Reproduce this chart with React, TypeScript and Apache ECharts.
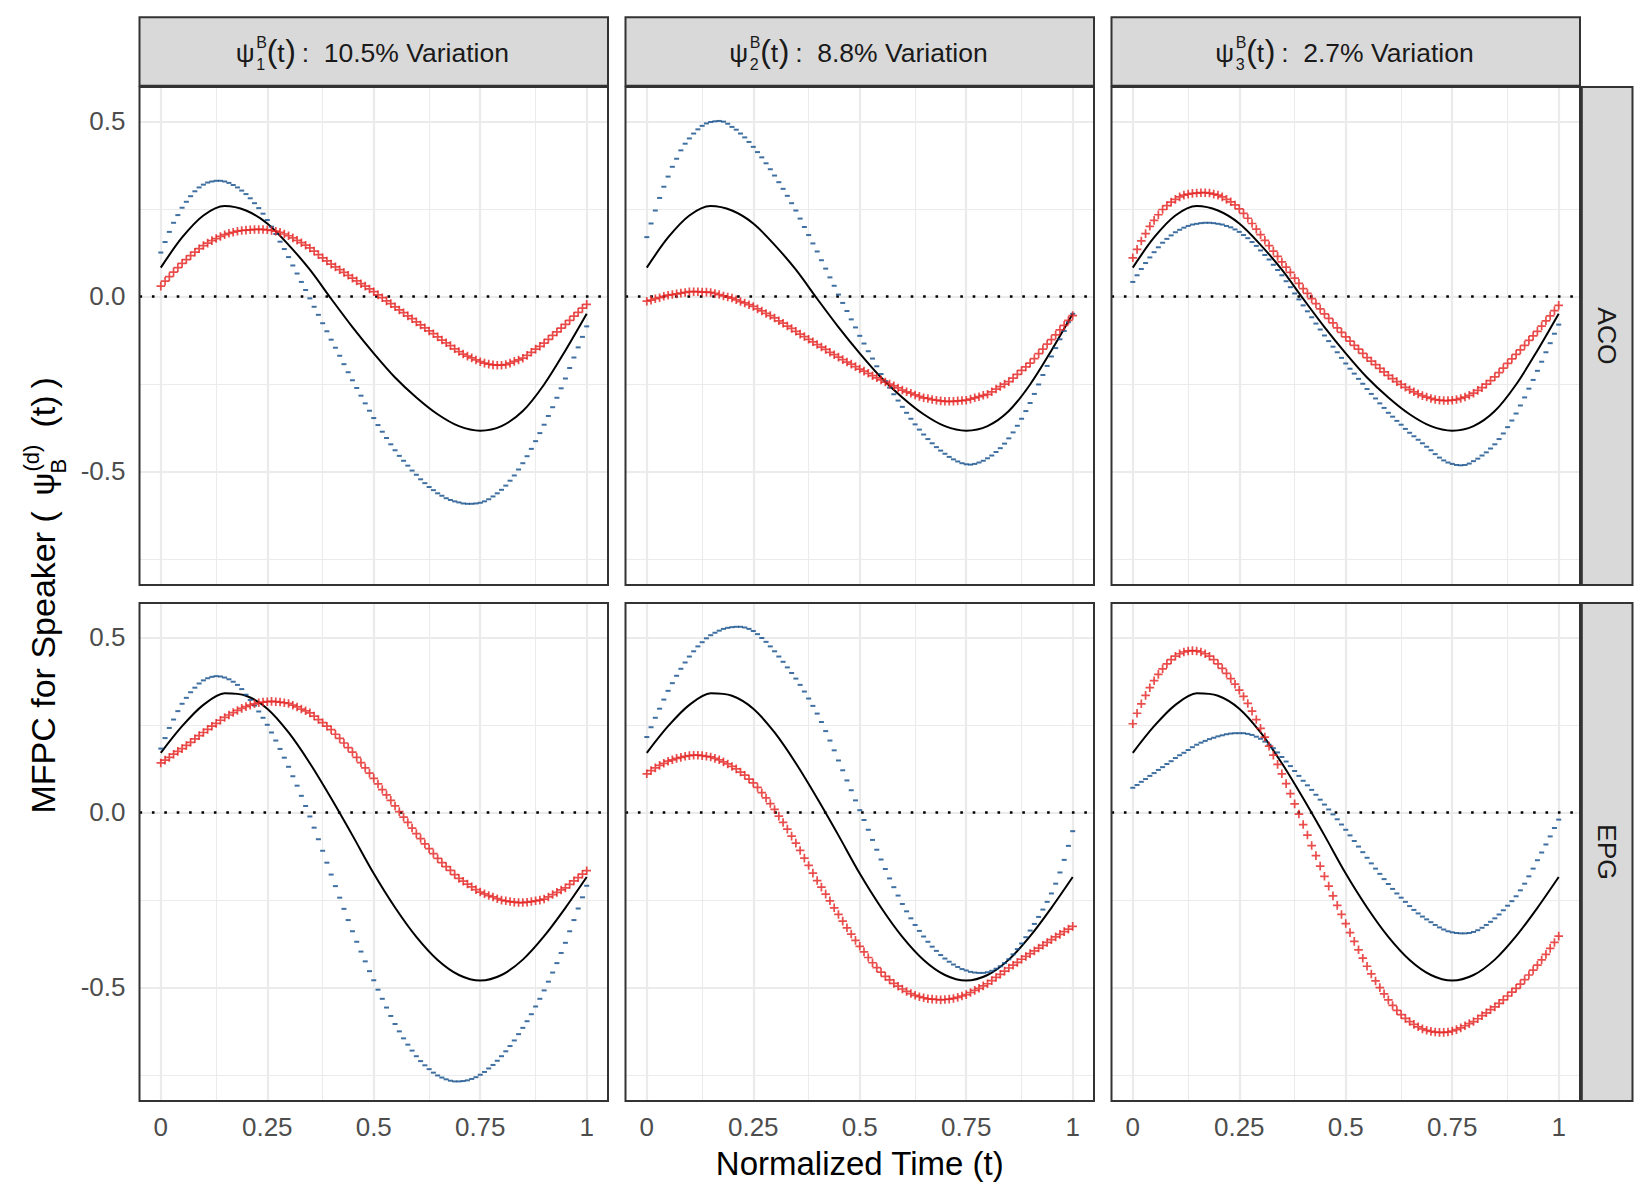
import React, { useEffect, useRef } from 'react';
import * as echarts from 'echarts';

// ---------------- DATA ----------------
const T_GRID = [
  0, 0.01, 0.02, 0.03, 0.04, 0.05, 0.06, 0.07, 0.08, 0.09,
  0.1, 0.11, 0.12, 0.13, 0.14, 0.15, 0.16, 0.17, 0.18, 0.19,
  0.2, 0.21, 0.22, 0.23, 0.24, 0.25, 0.26, 0.27, 0.28, 0.29,
  0.3, 0.31, 0.32, 0.33, 0.34, 0.35, 0.36, 0.37, 0.38, 0.39,
  0.4, 0.41, 0.42, 0.43, 0.44, 0.45, 0.46, 0.47, 0.48, 0.49,
  0.5, 0.51, 0.52, 0.53, 0.54, 0.55, 0.56, 0.57, 0.58, 0.59,
  0.6, 0.61, 0.62, 0.63, 0.64, 0.65, 0.66, 0.67, 0.68, 0.69,
  0.7, 0.71, 0.72, 0.73, 0.74, 0.75, 0.76, 0.77, 0.78, 0.79,
  0.8, 0.81, 0.82, 0.83, 0.84, 0.85, 0.86, 0.87, 0.88, 0.89,
  0.9, 0.91, 0.92, 0.93, 0.94, 0.95, 0.96, 0.97, 0.98, 0.99, 1,
];
const T_KNOTS = [0, 0.05, 0.1, 0.15, 0.2, 0.25, 0.3, 0.35, 0.4, 0.45, 0.5, 0.55, 0.6, 0.65, 0.7, 0.75, 0.8, 0.85, 0.9, 0.95, 1];

const MEAN_ACO = [0.082, 0.168, 0.231, 0.258, 0.245, 0.208, 0.147, 0.076, -0.007, -0.088, -0.163, -0.232, -0.289, -0.337, -0.371, -0.384, -0.371, -0.328, -0.252, -0.155, -0.050];
const MEAN_EPG = [0.170, 0.246, 0.307, 0.340, 0.333, 0.296, 0.228, 0.140, 0.040, -0.066, -0.175, -0.272, -0.356, -0.422, -0.465, -0.481, -0.465, -0.421, -0.354, -0.273, -0.185];

const RED_ACO_1 = [
  0.029, 0.043, 0.056, 0.069, 0.082, 0.094, 0.105, 0.116, 0.126, 0.136,
  0.145, 0.152, 0.159, 0.165, 0.171, 0.176, 0.180, 0.183, 0.186, 0.188,
  0.189, 0.190, 0.191, 0.191, 0.191, 0.190, 0.188, 0.186, 0.183, 0.178,
  0.173, 0.167, 0.160, 0.153, 0.146, 0.138, 0.129, 0.119, 0.110, 0.101,
  0.092, 0.084, 0.076, 0.068, 0.060, 0.052, 0.044, 0.036, 0.029, 0.021,
  0.013, 0.004, -0.004, -0.013, -0.021, -0.030, -0.039, -0.047, -0.056, -0.064,
  -0.073, -0.082, -0.090, -0.099, -0.107, -0.116, -0.125, -0.133, -0.141, -0.150,
  -0.158, -0.165, -0.171, -0.176, -0.182, -0.187, -0.191, -0.194, -0.196, -0.197,
  -0.197, -0.195, -0.191, -0.186, -0.182, -0.177, -0.169, -0.160, -0.151, -0.143,
  -0.134, -0.123, -0.112, -0.102, -0.091, -0.080, -0.069, -0.057, -0.046, -0.034,
  -0.023,
];
const BLUE_ACO_1 = [
  0.125, 0.155, 0.184, 0.210, 0.232, 0.253, 0.270, 0.286, 0.300, 0.311,
  0.319, 0.325, 0.328, 0.330, 0.330, 0.328, 0.324, 0.318, 0.311, 0.302,
  0.292, 0.280, 0.266, 0.252, 0.236, 0.218, 0.199, 0.178, 0.156, 0.135,
  0.112, 0.088, 0.065, 0.041, 0.018, -0.006, -0.030, -0.053, -0.077, -0.100,
  -0.124, -0.147, -0.170, -0.194, -0.217, -0.240, -0.262, -0.284, -0.306, -0.327,
  -0.348, -0.368, -0.387, -0.405, -0.423, -0.440, -0.456, -0.470, -0.484, -0.498,
  -0.510, -0.523, -0.534, -0.545, -0.554, -0.563, -0.570, -0.577, -0.582, -0.586,
  -0.589, -0.592, -0.593, -0.593, -0.592, -0.590, -0.586, -0.580, -0.572, -0.563,
  -0.553, -0.541, -0.527, -0.512, -0.495, -0.477, -0.457, -0.436, -0.414, -0.391,
  -0.367, -0.342, -0.317, -0.290, -0.263, -0.235, -0.205, -0.175, -0.146, -0.116,
  -0.086,
];
const RED_ACO_2 = [
  -0.014, -0.011, -0.007, -0.004, 0.000, 0.003, 0.005, 0.007, 0.009, 0.011,
  0.013, 0.013, 0.013, 0.012, 0.012, 0.011, 0.008, 0.005, 0.001, -0.002,
  -0.005, -0.010, -0.015, -0.019, -0.024, -0.029, -0.036, -0.042, -0.049, -0.055,
  -0.062, -0.070, -0.077, -0.085, -0.092, -0.100, -0.108, -0.115, -0.123, -0.130,
  -0.138, -0.145, -0.152, -0.160, -0.167, -0.174, -0.181, -0.188, -0.194, -0.201,
  -0.208, -0.214, -0.220, -0.227, -0.233, -0.239, -0.245, -0.251, -0.256, -0.262,
  -0.268, -0.273, -0.277, -0.282, -0.286, -0.290, -0.292, -0.295, -0.297, -0.299,
  -0.300, -0.300, -0.300, -0.299, -0.298, -0.297, -0.294, -0.290, -0.287, -0.283,
  -0.280, -0.273, -0.265, -0.258, -0.251, -0.244, -0.234, -0.223, -0.212, -0.202,
  -0.191, -0.178, -0.164, -0.151, -0.137, -0.124, -0.110, -0.096, -0.083, -0.069,
  -0.055,
];
const BLUE_ACO_2 = [
  0.169, 0.208, 0.245, 0.281, 0.313, 0.342, 0.370, 0.393, 0.417, 0.436,
  0.451, 0.465, 0.477, 0.487, 0.494, 0.498, 0.500, 0.501, 0.499, 0.493,
  0.484, 0.476, 0.465, 0.454, 0.441, 0.427, 0.412, 0.397, 0.380, 0.363,
  0.345, 0.326, 0.307, 0.287, 0.266, 0.245, 0.222, 0.198, 0.175, 0.151,
  0.128, 0.103, 0.079, 0.054, 0.030, 0.005, -0.019, -0.042, -0.066, -0.089,
  -0.113, -0.135, -0.157, -0.178, -0.200, -0.222, -0.242, -0.261, -0.280, -0.298,
  -0.316, -0.333, -0.350, -0.366, -0.381, -0.395, -0.408, -0.420, -0.431, -0.441,
  -0.450, -0.459, -0.466, -0.472, -0.477, -0.480, -0.481, -0.479, -0.475, -0.470,
  -0.463, -0.455, -0.445, -0.434, -0.421, -0.406, -0.389, -0.370, -0.350, -0.328,
  -0.305, -0.279, -0.252, -0.225, -0.199, -0.172, -0.148, -0.123, -0.099, -0.074,
  -0.050,
];
const RED_ACO_3 = [
  0.110, 0.134, 0.158, 0.179, 0.200, 0.217, 0.233, 0.248, 0.259, 0.269,
  0.277, 0.284, 0.289, 0.292, 0.294, 0.295, 0.296, 0.296, 0.295, 0.292,
  0.289, 0.284, 0.277, 0.270, 0.261, 0.250, 0.237, 0.223, 0.208, 0.192,
  0.176, 0.160, 0.145, 0.129, 0.114, 0.098, 0.083, 0.068, 0.052, 0.037,
  0.022, 0.008, -0.007, -0.021, -0.036, -0.050, -0.063, -0.076, -0.090, -0.103,
  -0.116, -0.128, -0.140, -0.151, -0.163, -0.175, -0.185, -0.195, -0.206, -0.216,
  -0.226, -0.235, -0.244, -0.252, -0.260, -0.267, -0.273, -0.279, -0.284, -0.288,
  -0.292, -0.295, -0.297, -0.298, -0.298, -0.297, -0.295, -0.292, -0.288, -0.283,
  -0.277, -0.269, -0.261, -0.251, -0.241, -0.230, -0.218, -0.205, -0.192, -0.179,
  -0.166, -0.153, -0.140, -0.126, -0.113, -0.100, -0.085, -0.070, -0.056, -0.041,
  -0.026,
];
const BLUE_ACO_3 = [
  0.041, 0.060, 0.078, 0.095, 0.111, 0.126, 0.140, 0.153, 0.164, 0.174,
  0.183, 0.190, 0.196, 0.201, 0.205, 0.207, 0.209, 0.210, 0.210, 0.209,
  0.207, 0.205, 0.201, 0.197, 0.191, 0.184, 0.175, 0.166, 0.155, 0.144,
  0.131, 0.118, 0.105, 0.090, 0.075, 0.060, 0.043, 0.026, 0.008, -0.009,
  -0.026, -0.043, -0.060, -0.078, -0.095, -0.112, -0.128, -0.144, -0.160, -0.176,
  -0.192, -0.207, -0.221, -0.236, -0.250, -0.265, -0.279, -0.292, -0.306, -0.319,
  -0.333, -0.344, -0.356, -0.367, -0.379, -0.390, -0.400, -0.410, -0.420, -0.430,
  -0.440, -0.451, -0.461, -0.469, -0.475, -0.479, -0.482, -0.483, -0.482, -0.478,
  -0.471, -0.464, -0.455, -0.446, -0.435, -0.423, -0.408, -0.392, -0.374, -0.355,
  -0.335, -0.312, -0.289, -0.264, -0.239, -0.213, -0.187, -0.160, -0.134, -0.107,
  -0.081,
];
const RED_EPG_1 = [
  0.141, 0.149, 0.157, 0.166, 0.174, 0.182, 0.191, 0.200, 0.210, 0.219,
  0.228, 0.237, 0.246, 0.254, 0.263, 0.271, 0.278, 0.285, 0.291, 0.297,
  0.302, 0.306, 0.310, 0.313, 0.315, 0.316, 0.317, 0.316, 0.315, 0.313,
  0.311, 0.306, 0.301, 0.295, 0.290, 0.284, 0.275, 0.265, 0.256, 0.246,
  0.236, 0.223, 0.211, 0.198, 0.185, 0.172, 0.157, 0.142, 0.127, 0.112,
  0.097, 0.081, 0.065, 0.050, 0.034, 0.018, 0.002, -0.014, -0.029, -0.045,
  -0.061, -0.075, -0.090, -0.104, -0.118, -0.132, -0.144, -0.155, -0.166, -0.178,
  -0.189, -0.197, -0.205, -0.213, -0.221, -0.228, -0.233, -0.238, -0.242, -0.247,
  -0.251, -0.253, -0.255, -0.257, -0.258, -0.258, -0.257, -0.255, -0.253, -0.251,
  -0.248, -0.242, -0.235, -0.229, -0.222, -0.216, -0.206, -0.196, -0.187, -0.177,
  -0.167,
];
const BLUE_EPG_1 = [
  0.182, 0.212, 0.241, 0.265, 0.289, 0.310, 0.327, 0.343, 0.356, 0.368,
  0.377, 0.383, 0.387, 0.389, 0.388, 0.385, 0.380, 0.373, 0.364, 0.352,
  0.336, 0.321, 0.305, 0.288, 0.270, 0.250, 0.228, 0.205, 0.181, 0.156,
  0.130, 0.103, 0.076, 0.047, 0.018, -0.012, -0.044, -0.077, -0.110, -0.144,
  -0.178, -0.211, -0.244, -0.276, -0.308, -0.340, -0.370, -0.398, -0.426, -0.454,
  -0.480, -0.507, -0.533, -0.558, -0.582, -0.605, -0.626, -0.646, -0.664, -0.681,
  -0.697, -0.711, -0.723, -0.734, -0.744, -0.752, -0.758, -0.763, -0.767, -0.769,
  -0.769, -0.768, -0.766, -0.762, -0.757, -0.750, -0.742, -0.732, -0.722, -0.710,
  -0.697, -0.683, -0.668, -0.652, -0.634, -0.616, -0.597, -0.577, -0.555, -0.533,
  -0.509, -0.484, -0.458, -0.431, -0.402, -0.373, -0.340, -0.308, -0.275, -0.243,
  -0.210,
];
const RED_EPG_2 = [
  0.110, 0.119, 0.127, 0.134, 0.140, 0.146, 0.150, 0.154, 0.157, 0.160,
  0.162, 0.163, 0.163, 0.162, 0.160, 0.158, 0.154, 0.150, 0.144, 0.138,
  0.131, 0.124, 0.115, 0.106, 0.095, 0.084, 0.071, 0.056, 0.041, 0.025,
  0.008, -0.011, -0.029, -0.048, -0.068, -0.088, -0.109, -0.131, -0.152, -0.174,
  -0.195, -0.214, -0.234, -0.253, -0.273, -0.292, -0.311, -0.330, -0.348, -0.366,
  -0.383, -0.399, -0.415, -0.430, -0.444, -0.457, -0.469, -0.479, -0.489, -0.497,
  -0.505, -0.512, -0.518, -0.523, -0.527, -0.530, -0.533, -0.534, -0.535, -0.536,
  -0.535, -0.534, -0.532, -0.529, -0.525, -0.521, -0.515, -0.509, -0.503, -0.496,
  -0.490, -0.481, -0.472, -0.463, -0.454, -0.445, -0.437, -0.429, -0.420, -0.412,
  -0.404, -0.396, -0.388, -0.380, -0.372, -0.364, -0.356, -0.349, -0.341, -0.334,
  -0.326,
];
const BLUE_EPG_2 = [
  0.215, 0.243, 0.270, 0.296, 0.322, 0.347, 0.369, 0.390, 0.410, 0.428,
  0.445, 0.460, 0.474, 0.486, 0.497, 0.506, 0.513, 0.519, 0.524, 0.527,
  0.529, 0.530, 0.530, 0.528, 0.524, 0.518, 0.509, 0.498, 0.487, 0.474,
  0.460, 0.445, 0.430, 0.414, 0.398, 0.382, 0.364, 0.345, 0.325, 0.304,
  0.282, 0.258, 0.232, 0.205, 0.177, 0.148, 0.120, 0.091, 0.063, 0.034,
  0.006, -0.022, -0.050, -0.079, -0.107, -0.135, -0.162, -0.189, -0.214, -0.238,
  -0.262, -0.283, -0.303, -0.322, -0.339, -0.355, -0.370, -0.384, -0.396, -0.408,
  -0.418, -0.427, -0.435, -0.442, -0.448, -0.452, -0.456, -0.458, -0.459, -0.459,
  -0.457, -0.453, -0.447, -0.440, -0.431, -0.420, -0.406, -0.391, -0.375, -0.357,
  -0.338, -0.319, -0.299, -0.278, -0.256, -0.232, -0.204, -0.172, -0.136, -0.096,
  -0.054,
];
const RED_EPG_3 = [
  0.253, 0.283, 0.310, 0.334, 0.356, 0.376, 0.394, 0.410, 0.424, 0.436,
  0.446, 0.453, 0.458, 0.461, 0.462, 0.461, 0.458, 0.453, 0.446, 0.436,
  0.424, 0.411, 0.397, 0.382, 0.366, 0.349, 0.331, 0.311, 0.289, 0.265,
  0.240, 0.215, 0.189, 0.163, 0.137, 0.110, 0.082, 0.053, 0.024, -0.005,
  -0.035, -0.065, -0.095, -0.124, -0.154, -0.183, -0.211, -0.239, -0.266, -0.292,
  -0.318, -0.344, -0.369, -0.393, -0.417, -0.440, -0.462, -0.482, -0.501, -0.519,
  -0.536, -0.552, -0.566, -0.578, -0.589, -0.598, -0.606, -0.613, -0.619, -0.623,
  -0.626, -0.628, -0.629, -0.629, -0.628, -0.625, -0.621, -0.616, -0.610, -0.604,
  -0.598, -0.590, -0.581, -0.573, -0.564, -0.556, -0.546, -0.536, -0.525, -0.514,
  -0.503, -0.491, -0.478, -0.465, -0.451, -0.437, -0.422, -0.406, -0.389, -0.372,
  -0.354,
];
const BLUE_EPG_3 = [
  0.070, 0.078, 0.087, 0.095, 0.104, 0.112, 0.121, 0.129, 0.138, 0.146,
  0.155, 0.163, 0.170, 0.178, 0.186, 0.193, 0.199, 0.204, 0.209, 0.213,
  0.217, 0.220, 0.223, 0.225, 0.226, 0.226, 0.226, 0.224, 0.221, 0.216,
  0.210, 0.202, 0.193, 0.183, 0.171, 0.158, 0.145, 0.132, 0.118, 0.104,
  0.090, 0.077, 0.064, 0.050, 0.036, 0.022, 0.008, -0.006, -0.020, -0.035,
  -0.050, -0.066, -0.082, -0.098, -0.114, -0.130, -0.146, -0.161, -0.176, -0.191,
  -0.205, -0.219, -0.232, -0.244, -0.256, -0.268, -0.279, -0.289, -0.298, -0.306,
  -0.314, -0.322, -0.329, -0.335, -0.340, -0.343, -0.345, -0.346, -0.346, -0.345,
  -0.342, -0.337, -0.330, -0.322, -0.313, -0.303, -0.292, -0.280, -0.267, -0.254,
  -0.240, -0.223, -0.204, -0.183, -0.161, -0.137, -0.115, -0.092, -0.069, -0.045,
  -0.021,
];

const X_TICKS = [0, 0.25, 0.5, 0.75, 1];
const X_MINOR = [0.125, 0.375, 0.625, 0.875];
const Y_TICKS = [-0.5, 0, 0.5];
const Y_MINOR = [-0.75, -0.25, 0.25];
const X_RANGE = [-0.05, 1.05];
const Y_RANGE = [-0.825, 0.598];

const COMPONENT_SUBS = ['1', '2', '3'];
const COMPONENT_PCTS = ['10.5% Variation', '8.8% Variation', '2.7% Variation'];
const ROW_LABELS = ['ACO', 'EPG'];

// ---------------- LAYOUT / STYLE ----------------
const FONT = '"Liberation Sans", Arial, Helvetica, sans-serif';
const COL_LEFT = [139.5, 625.5, 1111.5];
const PANEL_W = 468.5;
const ROW_TOP = [87, 603];
const PANEL_H = 498;
const STRIP_TOP = 17.3;
const STRIP_H = 68.5;
const RSTRIP_X = 1581.8;
const RSTRIP_W = 50.7;
const TITLE_HALF = [138, 130.5, 130.5];
const RED = '#E3201F';
const BLUE = '#0F4C8A';
const BORDER = '#333333';
const PLUS = 'path://M8,0L12,0L12,8L20,8L20,12L12,12L12,20L8,20L8,12L0,12L0,8L8,8Z';

const PANELS = [
  { mean: MEAN_ACO, red: RED_ACO_1, blue: BLUE_ACO_1 },
  { mean: MEAN_ACO, red: RED_ACO_2, blue: BLUE_ACO_2 },
  { mean: MEAN_ACO, red: RED_ACO_3, blue: BLUE_ACO_3 },
  { mean: MEAN_EPG, red: RED_EPG_1, blue: BLUE_EPG_1 },
  { mean: MEAN_EPG, red: RED_EPG_2, blue: BLUE_EPG_2 },
  { mean: MEAN_EPG, red: RED_EPG_3, blue: BLUE_EPG_3 },
];

function txt(text: string, x: number, y: number, size: number, extra: any = {}) {
  return {
    type: 'text',
    x,
    y,
    silent: true,
    z: 60,
    ...extra,
    style: {
      text,
      fontSize: size,
      fontFamily: FONT,
      fill: extra.fill || '#1A1A1A',
      align: extra.align || 'left',
      verticalAlign: 'middle',
    },
  };
}

function buildOption() {
  const grid: any[] = [];
  const xAxis: any[] = [];
  const yAxis: any[] = [];
  const series: any[] = [];
  const graphic: any[] = [];

  for (let r = 0; r < 2; r++) {
    for (let c = 0; c < 3; c++) {
      const idx = r * 3 + c;
      const p = PANELS[idx];
      grid.push({ left: COL_LEFT[c], top: ROW_TOP[r], width: PANEL_W, height: PANEL_H, containLabel: false });
      xAxis.push({
        type: 'value',
        gridIndex: idx,
        min: X_RANGE[0],
        max: X_RANGE[1],
        axisLine: { show: false },
        splitLine: { show: false },
        axisTick: { show: r === 1, length: 7, lineStyle: { color: BORDER, width: 2 }, customValues: X_TICKS },
        axisLabel: {
          show: r === 1,
          customValues: X_TICKS,
          color: '#4D4D4D',
          fontSize: 26,
          fontFamily: FONT,
          margin: 13,
          formatter: (v: number) => String(v),
        },
      });
      yAxis.push({
        type: 'value',
        gridIndex: idx,
        min: Y_RANGE[0],
        max: Y_RANGE[1],
        axisLine: { show: false },
        splitLine: { show: false },
        axisTick: { show: c === 0, length: 7, lineStyle: { color: BORDER, width: 2 }, customValues: Y_TICKS },
        axisLabel: {
          show: c === 0,
          customValues: Y_TICKS,
          color: '#4D4D4D',
          fontSize: 26,
          fontFamily: FONT,
          margin: 14,
          formatter: (v: number) => v.toFixed(1),
        },
      });

      const major = { color: '#EBEBEB', width: 2.2, type: 'solid' };
      const minor = { color: '#EBEBEB', width: 1.1, type: 'solid' };
      series.push({
        type: 'line',
        xAxisIndex: idx,
        yAxisIndex: idx,
        data: [],
        silent: true,
        z: 1,
        markLine: {
          silent: true,
          z: 1,
          symbol: ['none', 'none'],
          label: { show: false },
          emphasis: { disabled: true },
          animation: false,
          data: [
            ...X_MINOR.map((v) => ({ xAxis: v, lineStyle: minor })),
            ...Y_MINOR.map((v) => ({ yAxis: v, lineStyle: minor })),
            ...X_TICKS.map((v) => ({ xAxis: v, lineStyle: major })),
            ...Y_TICKS.map((v) => ({ yAxis: v, lineStyle: major })),
          ],
        },
      });
      series.push({
        type: 'line',
        xAxisIndex: idx,
        yAxisIndex: idx,
        data: [],
        silent: true,
        z: 2,
        markLine: {
          silent: true,
          z: 2,
          symbol: ['none', 'none'],
          label: { show: false },
          emphasis: { disabled: true },
          animation: false,
          data: [{ yAxis: 0, lineStyle: { color: '#000000', width: 2.6, type: [2.6, 9.8] } }],
        },
      });
      series.push({
        type: 'line',
        xAxisIndex: idx,
        yAxisIndex: idx,
        data: T_KNOTS.map((t, i) => [t, p.mean[i]]),
        smooth: 0.3,
        symbol: 'none',
        showSymbol: false,
        silent: true,
        z: 3,
        lineStyle: { color: '#000000', width: 2 },
      });
      series.push({
        type: 'scatter',
        xAxisIndex: idx,
        yAxisIndex: idx,
        data: T_GRID.map((t, i) => [t, p.blue[i]]),
        symbol: 'rect',
        symbolSize: [5, 2],
        silent: true,
        z: 4,
        itemStyle: { color: BLUE },
      });
      series.push({
        type: 'scatter',
        xAxisIndex: idx,
        yAxisIndex: idx,
        data: T_GRID.map((t, i) => [t, p.red[i]]),
        symbol: PLUS,
        symbolSize: 8.6,
        silent: true,
        z: 5,
        itemStyle: { color: RED },
      });

      graphic.push({
        type: 'rect',
        silent: true,
        z: 50,
        shape: { x: COL_LEFT[c], y: ROW_TOP[r], width: PANEL_W, height: PANEL_H },
        style: { fill: 'none', stroke: BORDER, lineWidth: 2 },
      });
    }
  }

  // top strips
  for (let c = 0; c < 3; c++) {
    graphic.push({
      type: 'rect',
      silent: true,
      z: 50,
      shape: { x: COL_LEFT[c], y: STRIP_TOP, width: PANEL_W, height: STRIP_H },
      style: { fill: '#D9D9D9', stroke: BORDER, lineWidth: 2 },
    });
    const cx = COL_LEFT[c] + PANEL_W / 2;
    const l0 = cx - TITLE_HALF[c];
    graphic.push(txt('ψ', l0, 52.5, 26.5));
    graphic.push(txt('B', l0 + 20.5, 42, 16));
    graphic.push(txt(COMPONENT_SUBS[c], l0 + 20.5, 64, 16));
    graphic.push(txt('(', l0 + 31, 51, 32));
    graphic.push(txt('t', l0 + 41.5, 52.5, 26.5));
    graphic.push(txt(')', l0 + 49.5, 51, 32));
    graphic.push(txt(':', l0 + 66, 52.5, 26.5));
    graphic.push(txt(COMPONENT_PCTS[c], l0 + 88, 52.5, 26.5));
  }

  // right strips
  for (let r = 0; r < 2; r++) {
    graphic.push({
      type: 'rect',
      silent: true,
      z: 50,
      shape: { x: RSTRIP_X, y: ROW_TOP[r], width: RSTRIP_W, height: PANEL_H },
      style: { fill: '#D9D9D9', stroke: BORDER, lineWidth: 2 },
    });
    graphic.push(
      txt(ROW_LABELS[r], RSTRIP_X + RSTRIP_W / 2, ROW_TOP[r] + PANEL_H / 2, 26.5, {
        rotation: -Math.PI / 2,
        align: 'center',
      })
    );
  }

  // x axis title
  graphic.push(
    txt('Normalized Time (t)', COL_LEFT[0] + (COL_LEFT[2] + PANEL_W - COL_LEFT[0]) / 2, 1163, 33, {
      align: 'center',
      fill: '#000000',
    })
  );

  // y axis title (rotated group)
  const yt = (text: string, x: number, y: number, size: number) => ({
    type: 'text',
    x,
    y,
    silent: true,
    style: { text, fontSize: size, fontFamily: FONT, fill: '#000000', align: 'left', verticalAlign: 'middle' },
  });
  graphic.push({
    type: 'group',
    x: 43,
    y: 813.5,
    rotation: Math.PI / 2,
    silent: true,
    z: 60,
    children: [
      yt('MFPC for Speaker (', 0, 0, 34),
      yt('ψ', 318, 0, 32),
      yt('(d)', 342, -12, 22),
      yt('B', 340, 15, 22),
      yt('(t)', 386, 0, 34),
      yt(')', 425, 0, 34),
    ],
  });

  return {
    animation: false,
    backgroundColor: '#ffffff',
    grid,
    xAxis,
    yAxis,
    series,
    graphic,
  };
}

export default function App() {
  const ref = useRef<HTMLDivElement>(null);
  useEffect(() => {
    if (!ref.current) return;
    const chart = echarts.init(ref.current, null, { renderer: 'svg', width: 1650, height: 1200 });
    chart.setOption(buildOption() as any);
    return () => {
      chart.dispose();
    };
  }, []);
  return (
    <div
      ref={ref}
      style={{ position: 'absolute', left: 0, top: 0, width: 1650, height: 1200, background: '#ffffff' }}
    />
  );
}
